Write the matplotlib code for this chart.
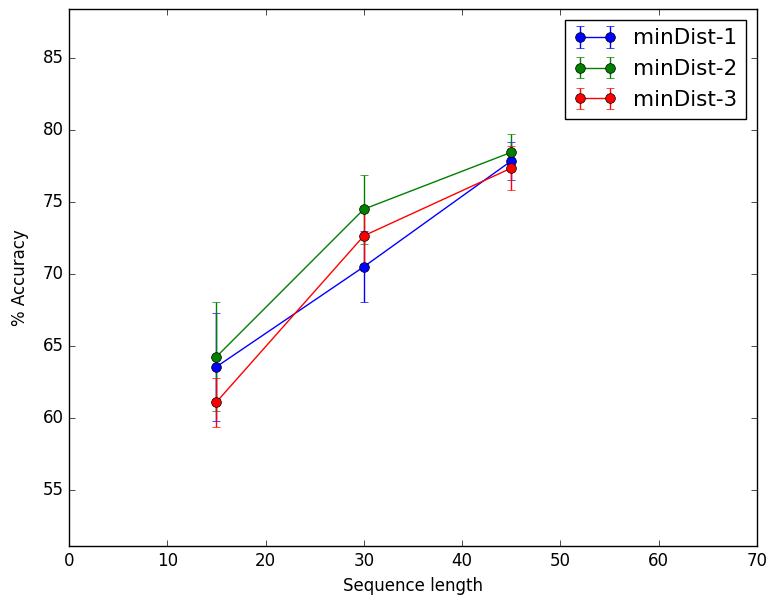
import matplotlib
matplotlib.use('Agg')
import matplotlib.pyplot as plt

plt.style.use('classic')

seq_len = [15, 30, 45]

acc_1 = [63.55, 70.5, 77.85]
err_1 = [3.75, 2.45, 1.3]

acc_2 = [64.25, 74.5, 78.45]
err_2 = [3.8, 2.4, 1.25]

acc_3 = [61.1, 72.65, 77.35]
err_3 = [1.7, 1.95, 1.55]

fig = plt.figure(figsize=(7.67, 6.01), dpi=100, facecolor='white')
ax = fig.add_axes([0.090, 0.0915, 0.897, 0.8935])

ax.errorbar(seq_len, acc_1, yerr=err_1, fmt='-o', color='b', ms=7, label='minDist-1')
ax.errorbar(seq_len, acc_2, yerr=err_2, fmt='-o', color='g', ms=7, label='minDist-2')
ax.errorbar(seq_len, acc_3, yerr=err_3, fmt='-o', color='r', ms=7, label='minDist-3')

ax.set_xlim(0, 70)
ax.set_ylim(51.1, 88.4)
ax.set_yticks([55, 60, 65, 70, 75, 80, 85])
ax.set_xlabel('Sequence length')
ax.set_ylabel('% Accuracy', labelpad=10)
ax.legend(loc='upper right', numpoints=2, fontsize=15.5)

fig.savefig('out.png', dpi=100, facecolor='white')
